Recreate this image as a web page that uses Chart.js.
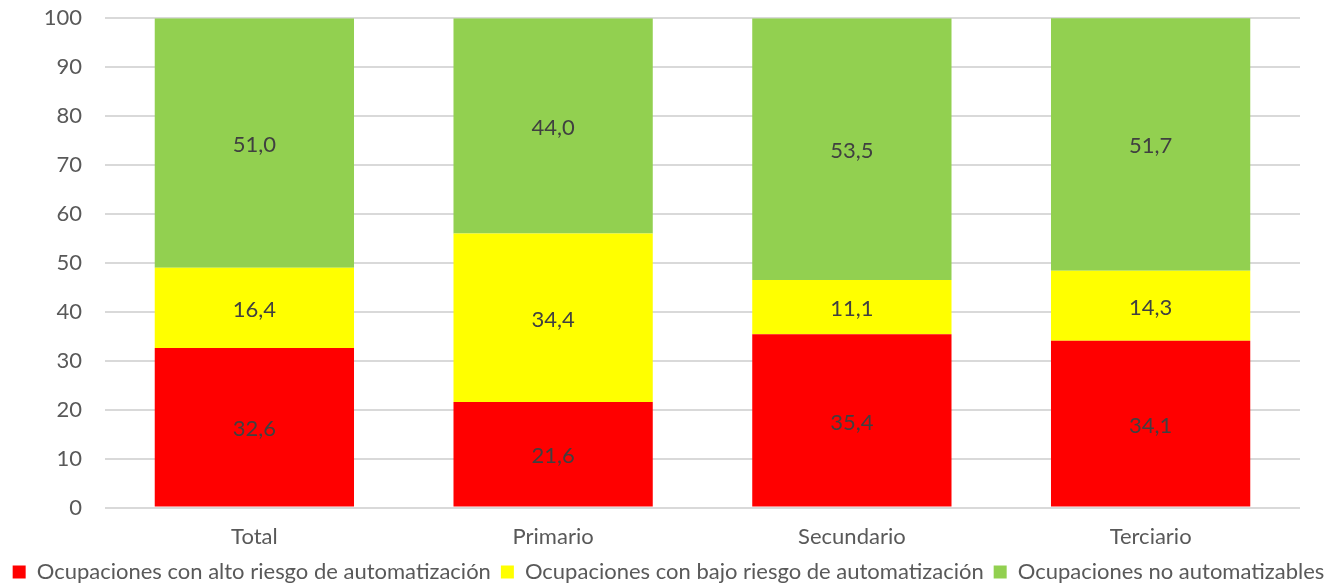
<!DOCTYPE html>
<html>
<head>
<meta charset="utf-8">
<script src="https://cdn.jsdelivr.net/npm/chart.js@4"></script>
<style>
  html, body { margin: 0; padding: 0; background: #fff; }
  #wrap { width: 1337px; height: 583px; }
</style>
</head>
<body>
<div id="wrap"><canvas id="chart"></canvas></div>
<script>
const categories = ['Total', 'Primario', 'Secundario', 'Terciario'];
const altoRiesgo = [32.6, 21.6, 35.4, 34.1];
const bajoRiesgo = [16.4, 34.4, 11.1, 14.3];
const noAutomatizables = [51.0, 44.0, 53.5, 51.7];
const seriesNames = [
  'Ocupaciones con alto riesgo de automatización',
  'Ocupaciones con bajo riesgo de automatización',
  'Ocupaciones no automatizables'
];
const yTicks = [0, 10, 20, 30, 40, 50, 60, 70, 80, 90, 100];

const FONT = 'Lato, "Open Sans", sans-serif';

// etiquetas en el centro de cada segmento
const segLabels = {
  id: 'segLabels',
  afterDatasetsDraw(chart) {
    const ctx = chart.ctx;
    ctx.save();
    ctx.font = '22px ' + FONT;
    ctx.fillStyle = '#404040';
    ctx.textAlign = 'center';
    ctx.textBaseline = 'middle';
    chart.data.datasets.forEach((ds, i) => {
      chart.getDatasetMeta(i).data.forEach((bar, j) => {
        const p = bar.getProps(['x', 'y', 'base'], true);
        ctx.fillText(ds.data[j].toFixed(1).replace('.', ','), p.x, (p.y + p.base) / 2 + 2);
      });
    });
    ctx.restore();
  }
};

new Chart(document.getElementById('chart'), {
  type: 'bar',
  data: {
    labels: categories,
    datasets: [
      { label: seriesNames[0], data: altoRiesgo, backgroundColor: '#FF0000' },
      { label: seriesNames[1], data: bajoRiesgo, backgroundColor: '#FFFF00' },
      { label: seriesNames[2], data: noAutomatizables, backgroundColor: '#92D050' }
    ]
  },
  options: {
    responsive: true,
    maintainAspectRatio: false,
    animation: false,
    categoryPercentage: 1,
    barPercentage: 0.667,
    layout: { padding: { top: 0, left: 0, right: 0, bottom: -10 } },
    plugins: {
      tooltip: { enabled: false },
      legend: {
        position: 'bottom',
        labels: {
          color: '#595959',
          font: { family: FONT, size: 22 },
          boxWidth: 13,
          boxHeight: 13,
          padding: 10
        }
      }
    },
    scales: {
      x: {
        stacked: true,
        grid: { display: false, drawTicks: false },
        border: { display: false },
        ticks: { color: '#595959', font: { family: FONT, size: 22 }, padding: 16 },
        afterFit: s => { s.height -= 15; }
      },
      y: {
        stacked: true,
        min: 0,
        max: 100,
        afterBuildTicks: s => { s.ticks = yTicks.map(v => ({ value: v })); },
        afterFit: s => { s.width = 105; },
        grid: { color: '#D9D9D9', lineWidth: 2, drawTicks: true, tickLength: 18, tickColor: 'rgba(0,0,0,0)' },
        border: { display: false },
        ticks: { color: '#595959', font: { family: FONT, size: 22 }, padding: 5 }
      },
      // espacio libre a la derecha del área de trazado
      yr: {
        type: 'linear',
        position: 'right',
        grid: { display: false, drawTicks: false },
        border: { display: false },
        ticks: { display: false },
        afterFit: s => { s.width = 37; }
      }
    }
  },
  plugins: [segLabels]
});
</script>
</body>
</html>
